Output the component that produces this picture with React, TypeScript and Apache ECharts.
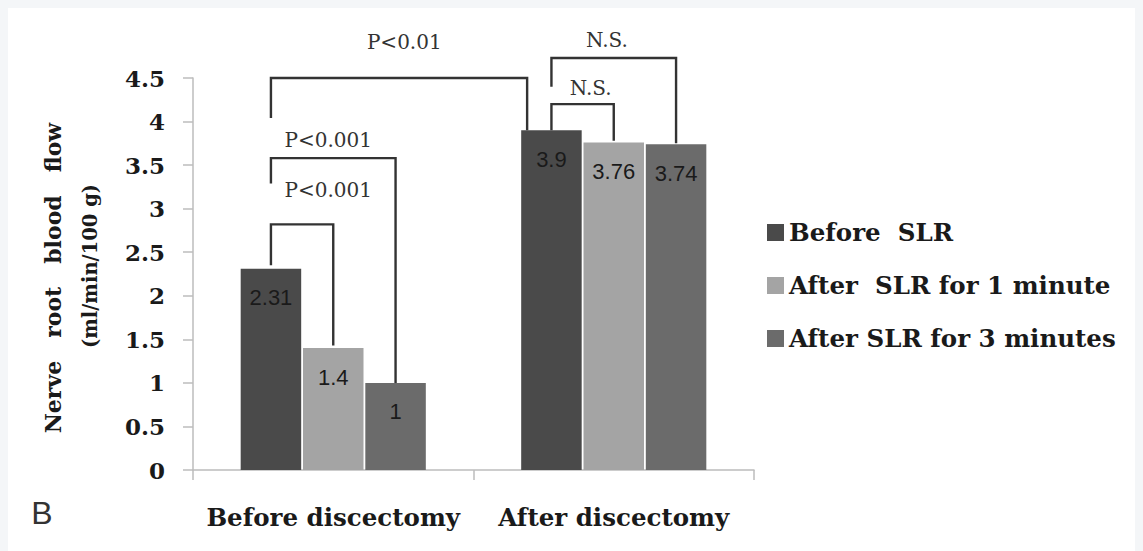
import React, { useEffect, useRef } from "react";
import * as echarts from "echarts";

const categories = ["Before discectomy", "After discectomy"];
const seriesNames = ["Before  SLR", "After  SLR for 1 minute", "After SLR for 3 minutes"];
const beforeSLR = [2.31, 3.9];
const afterSLR1 = [1.4, 3.76];
const afterSLR3 = [1.0, 3.74];
const seriesValues = [beforeSLR, afterSLR1, afterSLR3];
const seriesColors = ["#4a4a4a", "#a4a4a4", "#6b6b6b"];

const yMin = 0;
const yMax = 4.5;
const yInterval = 0.5;

const yAxisTitle = ["Nerve   root   blood   flow", "(ml/min/100 g)"];
const panelLetter = "B";

// significance brackets (category index + bar-slot offset, values in axis units)
const bracketLabels = ["P<0.01", "P<0.001", "P<0.001", "N.S.", "N.S."];
const bracketFromCat = [0, 0, 0, 1, 1];
const bracketFromSlot = [-1, -1, -1, -1, -1];
const bracketToCat = [1, 0, 0, 1, 1];
const bracketToSlot = [-1.39, 1, 0, 1, 0];
const bracketTop = [4.5, 3.58, 2.82, 4.73, 4.2];
const bracketLeftEnd = [4.04, 3.29, 2.35, 4.4, 3.9];
const bracketRightEnd = [3.9, 1.0, 1.43, 3.75, 3.78];
const bracketLabelCat = [0, 0, 0, 1, 1];
const bracketLabelSlot = [1.14, -0.08, -0.08, -0.11, -0.37];
const bracketLabelY = [4.91, 3.79, 3.21, 4.94, 4.39];

const CAT_GAP = 0.34;
const BAR_GAP = 0.03;

export default function App() {
  const ref = useRef<HTMLDivElement>(null);

  useEffect(() => {
    document.body.style.background = "#f4f6f8";
    const chart = echarts.init(ref.current!, null, { renderer: "svg" });
    const serif = "DejaVu Serif";

    const renderBracket = (params: any, api: any) => {
      const i = params.dataIndex;
      const band = api.size([1, 0])[0];
      const barW = (band * (1 - CAT_GAP)) / (3 + 2 * BAR_GAP);
      const slot = barW * (1 + BAR_GAP);
      const px = (cat: number, s: number) => api.coord([cat, 0])[0] + s * slot;
      const py = (v: number) => api.coord([0, v])[1];
      const x1 = px(bracketFromCat[i], bracketFromSlot[i]);
      const x2 = px(bracketToCat[i], bracketToSlot[i]);
      return {
        type: "group",
        children: [
          {
            type: "polyline",
            shape: {
              points: [
                [x1, py(bracketLeftEnd[i])],
                [x1, py(bracketTop[i])],
                [x2, py(bracketTop[i])],
                [x2, py(bracketRightEnd[i])],
              ],
            },
            style: { stroke: "#333", lineWidth: 2.4, fill: null },
          },
          {
            type: "text",
            x: px(bracketLabelCat[i], bracketLabelSlot[i]),
            y: py(bracketLabelY[i]),
            style: {
              text: bracketLabels[i],
              fill: "#333",
              font: `20px "${serif}"`,
              align: "center",
              verticalAlign: "middle",
            },
          },
        ],
      };
    };

    chart.setOption({
      animation: false,
      backgroundColor: "#ffffff",
      grid: { left: 185, right: 389, top: 70, bottom: 81, containLabel: false },
      legend: {
        orient: "vertical",
        left: 759,
        top: 212,
        padding: 0,
        itemWidth: 17,
        itemHeight: 17,
        itemGap: 28,
        icon: "rect",
        data: seriesNames,
        textStyle: {
          fontFamily: serif,
          fontWeight: "bold",
          fontSize: 24.5,
          lineHeight: 24,
          color: "#1a1a1a",
        },
      },
      xAxis: {
        type: "category",
        data: categories,
        axisLine: { show: true, lineStyle: { color: "#bcbcbc", width: 1.5 } },
        axisTick: { show: true, length: 10, lineStyle: { color: "#bcbcbc", width: 1.5 } },
        axisLabel: {
          interval: 0,
          margin: 35,
          fontFamily: serif,
          fontWeight: "bold",
          fontSize: 24.5,
          color: "#1a1a1a",
        },
      },
      yAxis: {
        type: "value",
        min: yMin,
        max: yMax,
        interval: yInterval,
        splitLine: { show: false },
        axisLine: { show: true, lineStyle: { color: "#bcbcbc", width: 1.5 } },
        axisTick: { show: true, length: 10, lineStyle: { color: "#bcbcbc", width: 1.5 } },
        axisLabel: {
          margin: 28,
          fontFamily: serif,
          fontWeight: "bold",
          fontSize: 23,
          color: "#1a1a1a",
        },
      },
      series: [
        ...seriesNames.map((name, s) => ({
          type: "bar",
          name,
          data: seriesValues[s],
          barCategoryGap: `${CAT_GAP * 100}%`,
          barGap: `${BAR_GAP * 100}%`,
          itemStyle: { color: seriesColors[s] },
          label: {
            show: true,
            position: "insideTop",
            distance: 18,
            fontFamily: "Liberation Sans",
            fontSize: 22,
            color: "#1a1a1a",
          },
        })),
        {
          type: "custom",
          name: "brackets",
          clip: false,
          silent: true,
          renderItem: renderBracket,
          data: bracketLabels.map((_, i) => [bracketFromCat[i], bracketTop[i]]),
          z: 5,
        },
      ],
      graphic: [
        {
          type: "text",
          x: 45,
          y: 270,
          rotation: Math.PI / 2,
          style: {
            text: yAxisTitle[0],
            font: `bold 22px "${serif}"`,
            fill: "#1a1a1a",
            align: "center",
            verticalAlign: "middle",
          },
        },
        {
          type: "text",
          x: 82,
          y: 258,
          rotation: Math.PI / 2,
          style: {
            text: yAxisTitle[1],
            font: `bold 19.5px "${serif}"`,
            fill: "#1a1a1a",
            align: "center",
            verticalAlign: "middle",
          },
        },
        {
          type: "text",
          x: 34,
          y: 505,
          style: {
            text: panelLetter,
            font: `32px "Liberation Sans"`,
            fill: "#333",
            align: "center",
            verticalAlign: "middle",
          },
        },
      ],
    });
    return () => chart.dispose();
  }, []);

  return <div ref={ref} style={{ width: 1135, height: 543, background: "#fff" }} />;
}
